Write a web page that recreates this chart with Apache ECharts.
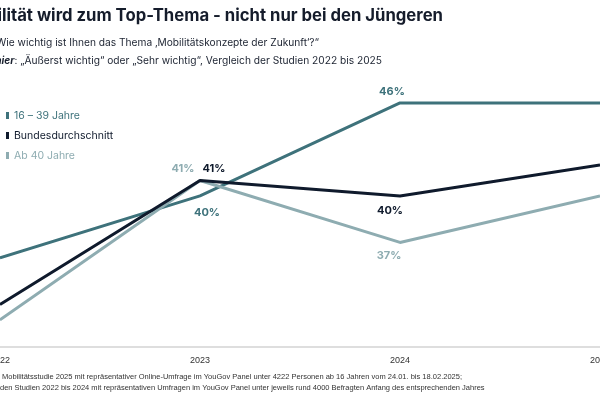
<!DOCTYPE html>
<html lang="de">
<head>
    <meta charset="UTF-8">
    <title>Mobilität Top-Thema</title>
    <script type="text/javascript" src="https://cdn.jsdelivr.net/npm/echarts@6/dist/echarts.min.js"></script>
    <style>
        html, body { margin: 0; padding: 0; background: #fff; }
        #chart { width: 600px; height: 399px; }
    </style>
</head>
<body>
<div id="chart"></div>
<script type="text/javascript">
    // Daten
    var years = ['2022', '2023', '2024', '2025'];
    var jung = [36, 40, 46, 46];          // 16 – 39 Jahre
    var bund = [33, 41, 40, 42];          // Bundesdurchschnitt
    var alt = [32, 41, 37, 40];           // Ab 40 Jahre
    var seriesNames = ['16 – 39 Jahre', 'Bundesdurchschnitt', 'Ab 40 Jahre'];
    var colors = ['#3e727b', '#0f1a2c', '#8eacb1'];

    // welche Punkte beschriftet werden + Lage
    var labelPos = [
        {1: ['bottom', [7, 5]], 2: ['top', [-8, 1]]},
        {1: ['top', [14, 0]], 2: ['bottom', [-10, 3]]},
        {1: ['top', [-17, 0]], 2: ['bottom', [-11, 1]]}
    ];

    function buildData(values, idx) {
        return values.map(function (v, i) {
            var p = labelPos[idx][i];
            if (!p) return {value: v, label: {show: false}};
            return {
                value: v,
                label: {show: true, position: p[0], offset: p[1], distance: 6}
            };
        });
    }

    var dom = document.getElementById('chart');
    var myChart = echarts.init(dom);
    var font = 'Inter, "Noto Sans", sans-serif';

    var option = {
        animation: false,
        color: colors,
        grid: {left: 0, right: 0, top: 41, bottom: 52, containLabel: false, outerBoundsMode: 'none'},
        legend: {
            orient: 'vertical',
            left: 1,
            top: 105,
            itemGap: 9,
            itemWidth: 3,
            itemHeight: 7,
            icon: 'rect',
            textStyle: {fontFamily: font, fontSize: 10.5},
            data: seriesNames.map(function (n, i) {
                return {name: n, itemStyle: {color: colors[i], opacity: 1}, textStyle: {color: colors[i]}};
            })
        },
        xAxis: {
            type: 'category',
            data: years,
            boundaryGap: false,
            axisLine: {onZero: false, lineStyle: {color: '#dedede', width: 2}},
            axisTick: {show: false},
            axisLabel: {color: '#333', fontSize: 9, fontFamily: 'Liberation Sans, Arial, sans-serif', margin: 9}
        },
        yAxis: {
            type: 'value',
            min: 30.25,
            max: 50,
            show: false,
            splitLine: {show: false}
        },
        series: [jung, bund, alt].map(function (vals, i) {
            return {
                name: seriesNames[i],
                type: 'line',
                data: buildData(vals, i),
                symbol: 'circle',
                symbolSize: 1,
                showSymbol: true,
                itemStyle: {color: colors[i]},
                lineStyle: {width: 3, color: colors[i]},
                z: i === 1 ? 3 : 2,
                label: {
                    formatter: '{c}%',
                    color: colors[i],
                    fontFamily: font,
                    fontWeight: 'bold',
                    fontSize: 11
                }
            };
        }),
        graphic: [
            {
                type: 'text', right: 157, top: 7,
                style: {
                    text: 'Mobilität wird zum Top-Thema - nicht nur bei den Jüngeren',
                    font: 'bold 16.7px ' + font, fill: '#151c2b'
                }
            },
            {
                type: 'text', right: 281, top: 38,
                style: {
                    text: 'Frage: „Wie wichtig ist Ihnen das Thema ‚Mobilitätskonzepte der Zukunft‘?“',
                    font: '10.2px ' + font, fill: '#1b2230'
                }
            },
            {
                type: 'text', right: 218, top: 56,
                style: {
                    text: '{b|Dargestellt hier}: „Äußerst wichtig“ oder „Sehr wichtig“, Vergleich der Studien 2022 bis 2025',
                    font: '10.2px ' + font, fill: '#1b2230',
                    rich: {b: {fontStyle: 'italic', fontWeight: 'bold', fontSize: 10.2, fontFamily: font}}
                }
            },
            {
                type: 'text', left: 2, top: 373,
                style: {
                    text: 'Mobilitätsstudie 2025 mit repräsentativer Online-Umfrage im YouGov Panel unter 4222 Personen ab 16 Jahren vom 24.01. bis 18.02.2025;',
                    font: '7.5px "Liberation Sans", Arial, sans-serif', fill: '#333'
                }
            },
            {
                type: 'text', left: 0, top: 384,
                style: {
                    text: 'den Studien 2022 bis 2024 mit repräsentativen Umfragen im YouGov Panel unter jeweils rund 4000 Befragten Anfang des entsprechenden Jahres',
                    font: '7.5px "Liberation Sans", Arial, sans-serif', fill: '#333'
                }
            }
        ]
    };

    if (option && typeof option === 'object') {
        myChart.setOption(option, true);
    }
</script>
</body>
</html>
